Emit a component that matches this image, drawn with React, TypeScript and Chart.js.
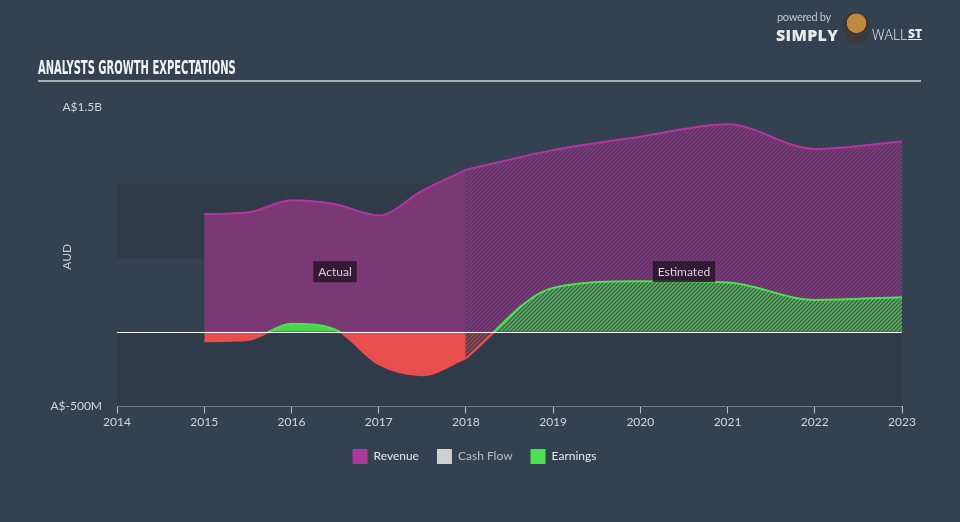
import React, { useEffect, useRef } from 'react';
import { Chart, registerables } from 'chart.js';

Chart.register(...registerables);

// ---- data (values in millions of AUD) ----
const revenueActualYears = [2015.0, 2015.5, 2016.0, 2016.5, 2017.0, 2017.5, 2018.0];
const revenueActual = [785, 795, 877, 850, 776, 941, 1080];
const revenueEstYears = [2018, 2019, 2020, 2021, 2022, 2023];
const revenueEst = [1080, 1212, 1302, 1385, 1220, 1270];

const earningsActualYears = [2015.0, 2015.5, 2016.0, 2016.5, 2017.0, 2017.5, 2018.0];
const earningsActual = [-65, -56, 52, 15, -217, -291, -177];
const earningsEstYears = [2018, 2019, 2020, 2021, 2022, 2023];
const earningsEst = [-177, 292, 337, 328, 212, 230];

const xTickYears = [2014, 2015, 2016, 2017, 2018, 2019, 2020, 2021, 2022, 2023];
const yTickValues = [-500, 1500];
const yTickLabels = ['A$-500M', 'A$1.5B'];
const legendLabels = ['Revenue', 'Cash Flow', 'Earnings'];
const shadedBands = [[490, 990], [-500, 0]];
const periodLabels = ['Actual', 'Estimated'];
const periodLabelX = [2016.5, 2020.5];
const periodLabelY = 400;

// ---- styling ----
const BG = '#344151';
const BAND = '#2f3b49';
const REV_LINE = '#b3369e';
const REV_FILL = '#7a3874';
const GREEN = '#4ee04e';
const GREEN_FILL = '#4bd44b';
const RED = '#e84e4e';
const legendColors = ['#a93a9a', '#d0d0d0', '#4ee04e'];
const legendFontColors = ['#e6e8ea', '#b8bdc3', '#e6e8ea'];
const FONT = 'Lato, "Open Sans", "DejaVu Sans", sans-serif';

function hatch(bg: string, fg: string, size = 4, lw = 1.4) {
  const c = document.createElement('canvas');
  c.width = size;
  c.height = size;
  const g = c.getContext('2d')!;
  g.fillStyle = bg;
  g.fillRect(0, 0, size, size);
  g.strokeStyle = fg;
  g.lineWidth = lw;
  g.beginPath();
  g.moveTo(0, size);
  g.lineTo(size, 0);
  g.moveTo(-size / 2, size / 2);
  g.lineTo(size / 2, -size / 2);
  g.moveTo(size / 2, size * 1.5);
  g.lineTo(size * 1.5, size / 2);
  g.stroke();
  return g.createPattern(c, 'repeat') as CanvasPattern;
}

function pts(xs: number[], ys: number[]) {
  return xs.map((x, i) => ({ x, y: ys[i] }));
}

function earningsStroke(ctx: any) {
  const chart = ctx.chart;
  const area = chart.chartArea;
  if (!area) return GREEN;
  const y0 = chart.scales.y.getPixelForValue(0);
  const t = Math.min(1, Math.max(0, (y0 - area.top) / (area.bottom - area.top)));
  const g = chart.ctx.createLinearGradient(0, area.top, 0, area.bottom);
  g.addColorStop(0, GREEN);
  g.addColorStop(t, GREEN);
  g.addColorStop(t, RED);
  g.addColorStop(1, RED);
  return g;
}

const decorPlugin = {
  id: 'decor',
  beforeDatasetsDraw(chart: any) {
    const { ctx, chartArea, scales } = chart;
    const y = scales.y;
    ctx.save();
    ctx.fillStyle = BAND;
    shadedBands.forEach(([lo, hi]) => {
      const top = y.getPixelForValue(hi);
      const bot = y.getPixelForValue(lo);
      ctx.fillRect(chartArea.left, top, chartArea.right - chartArea.left, bot - top);
    });
    ctx.restore();
  },
  afterDatasetsDraw(chart: any) {
    const { ctx, chartArea, scales } = chart;
    const y0 = Math.round(scales.y.getPixelForValue(0)) + 0.5;
    ctx.save();
    ctx.strokeStyle = '#ffffff';
    ctx.lineWidth = 1;
    ctx.beginPath();
    ctx.moveTo(chartArea.left, y0);
    ctx.lineTo(chartArea.right, y0);
    ctx.stroke();

    ctx.font = '12px ' + FONT;
    ctx.textAlign = 'center';
    ctx.textBaseline = 'middle';
    periodLabels.forEach((txt, i) => {
      const cx = scales.x.getPixelForValue(periodLabelX[i]);
      const cy = scales.y.getPixelForValue(periodLabelY);
      const w = ctx.measureText(txt).width + 10;
      const h = 21;
      ctx.fillStyle = 'rgba(34, 18, 36, 0.78)';
      ctx.fillRect(cx - w / 2, cy - h / 2, w, h);
      ctx.fillStyle = '#d8d2da';
      ctx.fillText(txt, cx, cy + 0.5);
    });
    ctx.restore();
  },
};

export default function App() {
  const canvasRef = useRef<HTMLCanvasElement | null>(null);

  useEffect(() => {
    const canvas = canvasRef.current;
    if (!canvas) return;
    const revPattern = hatch('#583564', '#853a7d');
    const greenPattern = hatch('#3b6150', '#5cb65c');
    const redPattern = hatch('#413c4a', '#a8484c');

    const chart = new Chart(canvas, {
      type: 'line',
      data: {
        datasets: [
          {
            label: 'Earnings',
            data: pts(earningsActualYears, earningsActual),
            borderColor: earningsStroke,
            borderWidth: 2,
            fill: { target: 'origin', above: GREEN_FILL, below: RED },
            order: 0,
          },
          {
            label: 'Earnings (estimated)',
            data: pts(earningsEstYears, earningsEst),
            borderColor: earningsStroke,
            borderWidth: 2,
            fill: { target: 'origin', above: greenPattern, below: redPattern },
            order: 0,
          },
          {
            label: 'Revenue',
            data: pts(revenueActualYears, revenueActual),
            borderColor: REV_LINE,
            backgroundColor: REV_FILL,
            borderWidth: 2,
            fill: 'origin',
            order: 1,
          },
          {
            label: 'Revenue (estimated)',
            data: pts(revenueEstYears, revenueEst),
            borderColor: REV_LINE,
            backgroundColor: revPattern,
            borderWidth: 2,
            fill: 'origin',
            order: 1,
          },
        ],
      },
      options: {
        animation: false,
        responsive: false,
        devicePixelRatio: 1,
        elements: { point: { radius: 0, hoverRadius: 0 }, line: { cubicInterpolationMode: 'monotone' } },
        layout: { padding: { left: 47, right: 58, top: 107, bottom: 48 } },
        plugins: {
          tooltip: { enabled: false },
          title: { display: false },
          legend: {
            display: true,
            position: 'bottom',
            onClick: () => {},
            labels: {
              boxWidth: 15,
              boxHeight: 15,
              padding: 18,
              font: { family: FONT, size: 12 },
              generateLabels: () =>
                legendLabels.map((text, i) => ({
                  text,
                  fillStyle: legendColors[i],
                  strokeStyle: legendColors[i],
                  lineWidth: 0,
                  hidden: false,
                  fontColor: legendFontColors[i],
                  datasetIndex: i,
                })),
            },
          },
        },
        scales: {
          x: {
            type: 'linear',
            min: 2014,
            max: 2023,
            afterBuildTicks: (s: any) => {
              s.ticks = xTickYears.map((v) => ({ value: v }));
            },
            afterFit: (s: any) => {
              s.height = 24.5;
            },
            ticks: {
              color: '#d2d6da',
              font: { family: FONT, size: 12 },
              padding: 1,
              maxRotation: 0,
              autoSkip: false,
              callback: (v: any) => String(v),
            },
            grid: {
              display: true,
              drawOnChartArea: false,
              drawTicks: true,
              tickLength: 7,
              tickColor: '#b8c0c8',
            },
            border: { display: true, color: '#b8c0c8', width: 1 },
          },
          y: {
            type: 'linear',
            min: -500,
            max: 1500,
            afterBuildTicks: (s: any) => {
              s.ticks = yTickValues.map((v) => ({ value: v }));
            },
            afterFit: (s: any) => {
              s.width = 70;
            },
            ticks: {
              color: '#d2d6da',
              font: { family: FONT, size: 12 },
              padding: 15,
              callback: (v: any) => {
                const i = yTickValues.indexOf(Number(v));
                return i >= 0 ? yTickLabels[i] : '';
              },
            },
            grid: { display: false, drawTicks: false },
            border: { display: false },
            title: {
              display: true,
              text: 'AUD',
              color: '#c8ccd2',
              font: { family: FONT, size: 12 },
              padding: { top: 13, bottom: 0 },
            },
          },
        },
      } as any,
      plugins: [decorPlugin],
    });
    return () => chart.destroy();
  }, []);

  return (
    <div
      style={{
        position: 'fixed',
        left: 0,
        top: 0,
        width: 960,
        height: 522,
        background: BG,
        overflow: 'hidden',
        fontFamily: FONT,
      }}
    >
      <canvas ref={canvasRef} width={960} height={522} style={{ display: 'block', position: 'absolute', left: 0, top: 0 }} />
      <div
        style={{
          position: 'absolute',
          left: 38,
          top: 55,
          fontFamily: '"Liberation Sans Narrow", "DejaVu Sans Condensed", sans-serif',
          fontWeight: 700,
          fontSize: 20,
          color: '#f2f3f4',
          whiteSpace: 'nowrap',
          transform: 'scaleX(0.555)',
          transformOrigin: 'left top',
          letterSpacing: 0,
        }}
      >
        ANALYSTS GROWTH EXPECTATIONS
      </div>
      <div style={{ position: 'absolute', left: 38, top: 80, width: 883, height: 2, background: '#a9b0b8' }} />
      <div
        style={{
          position: 'absolute',
          left: 777,
          top: 10,
          fontSize: 11,
          color: '#c3c7cc',
          fontFamily: FONT,
          letterSpacing: -0.3,
        }}
      >
        powered by
      </div>
      <div
        style={{
          position: 'absolute',
          left: 776,
          top: 24,
          fontSize: 16,
          fontWeight: 800,
          color: '#e8eaec',
          fontFamily: '"Open Sans", sans-serif',
          letterSpacing: 0.3,
        }}
      >
        SIMPLY
      </div>
      <div
        style={{
          position: 'absolute',
          left: 843,
          top: 12,
          width: 27,
          height: 32,
          borderRadius: '45% 45% 50% 50%',
          background: 'radial-gradient(circle at 50% 35%, #c08a3c 0 38%, #3a3a3a 40% 100%)',
        }}
      />
      <div
        style={{
          position: 'absolute',
          left: 872,
          top: 25,
          fontSize: 14,
          fontWeight: 300,
          color: '#e8eaec',
          fontFamily: '"Open Sans", sans-serif',
          letterSpacing: 0,
        }}
      >
        WALL
      </div>
      <div
        style={{
          position: 'absolute',
          left: 908,
          top: 25,
          fontSize: 12,
          fontWeight: 800,
          color: '#e8eaec',
          fontFamily: '"Open Sans", sans-serif',
          textDecoration: 'underline',
        }}
      >
        ST
      </div>
    </div>
  );
}
